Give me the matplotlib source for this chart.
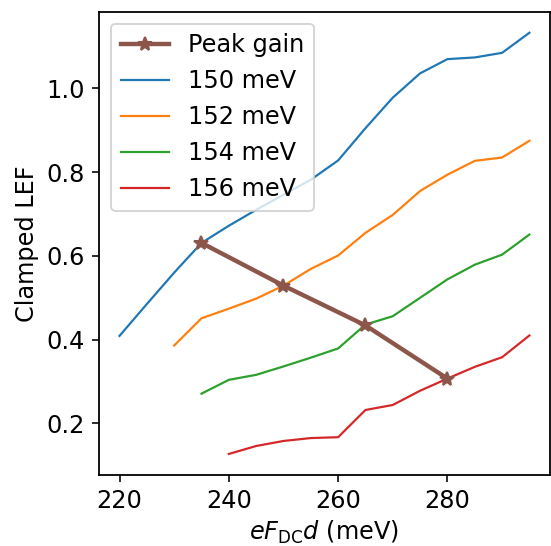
import matplotlib
matplotlib.use("Agg")
import matplotlib.pyplot as plt

x150 = [220, 225, 230, 235, 240, 245, 250, 255, 260, 265, 270, 275, 280, 285, 290, 295]
y150 = [0.409, 0.485, 0.560, 0.631, 0.672, 0.710, 0.746, 0.782, 0.828, 0.905, 0.978, 1.036, 1.070, 1.074, 1.085, 1.133]
x152 = [230, 235, 240, 245, 250, 255, 260, 265, 270, 275, 280, 285, 290, 295]
y152 = [0.386, 0.451, 0.474, 0.498, 0.529, 0.569, 0.601, 0.655, 0.698, 0.755, 0.794, 0.827, 0.835, 0.875]
x154 = [235, 240, 245, 250, 255, 260, 265, 270, 275, 280, 285, 290, 295]
y154 = [0.271, 0.304, 0.316, 0.336, 0.357, 0.379, 0.436, 0.456, 0.500, 0.544, 0.579, 0.603, 0.651]
x156 = [240, 245, 250, 255, 260, 265, 270, 275, 280, 285, 290, 295]
y156 = [0.127, 0.146, 0.158, 0.165, 0.167, 0.232, 0.244, 0.278, 0.307, 0.335, 0.358, 0.410]
peak_x = [235, 250, 265, 280]
peak_y = [0.631, 0.529, 0.434, 0.307]

DPI = 144
plt.rcParams['font.size'] = 12
plt.rcParams['axes.linewidth'] = 0.9
fig = plt.figure(figsize=(551/DPI, 546/DPI), dpi=DPI)
ax = fig.add_axes([0.1797, 0.13, 0.8183, 0.8486])

ax.plot(peak_x, peak_y, color='tab:brown', lw=2.2, marker='*', markersize=7.5, label='Peak gain', zorder=3)
ax.plot(x150, y150, color='tab:blue', lw=1.1, label='150 meV')
ax.plot(x152, y152, color='tab:orange', lw=1.1, label='152 meV')
ax.plot(x154, y154, color='tab:green', lw=1.1, label='154 meV')
ax.plot(x156, y156, color='tab:red', lw=1.1, label='156 meV')

ax.set_xlabel(r'$eF_{\mathrm{DC}}d$ (meV)', labelpad=3)
ax.set_ylabel('Clamped LEF')
ax.legend(loc='upper left')
fig.savefig('out.png', dpi=DPI)
